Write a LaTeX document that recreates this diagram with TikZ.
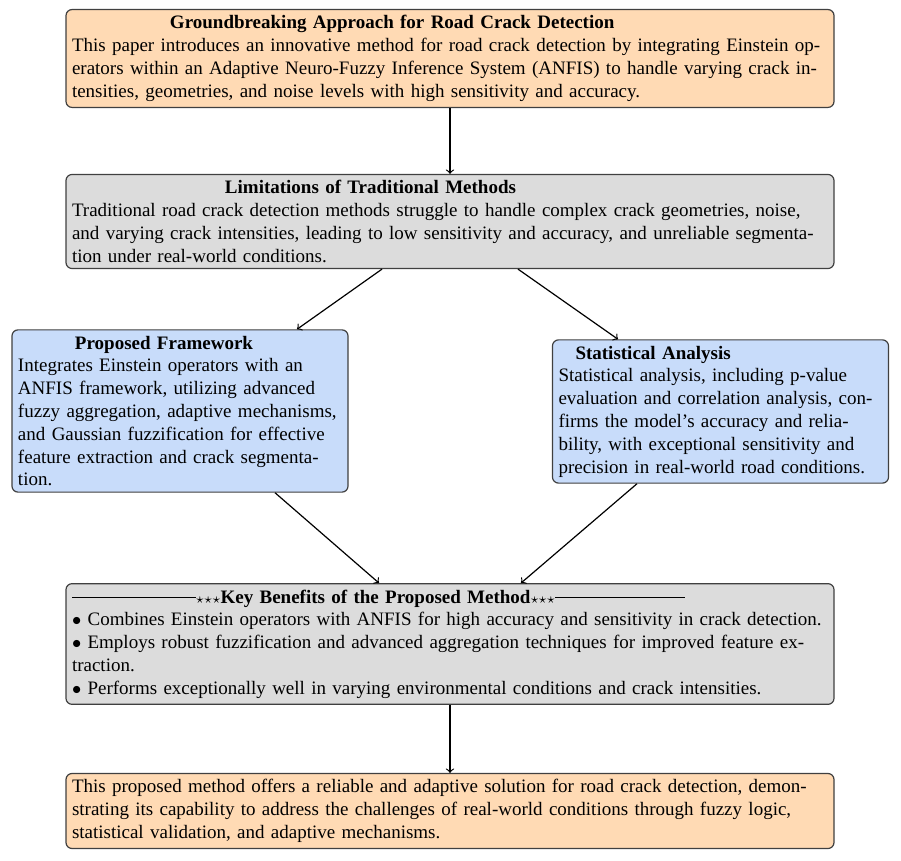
\documentclass[tikz,border=0pt]{standalone}
\usepackage{fontspec}
\setmainfont{Liberation Serif}
\usetikzlibrary{positioning}
\definecolor{peach}{RGB}{255,218,180}
\definecolor{lgray}{RGB}{220,220,220}
\definecolor{lblue}{RGB}{200,220,250}
\tikzset{
  box/.style={draw=black!75, line width=0.6pt, rounded corners=3pt, inner xsep=3pt, inner ysep=3pt, align=left, font=\fontsize{9.5}{11.4}\selectfont},
  widebox/.style={box, text width=378pt},
  narrowbox/.style={box, text width=162pt},
  arr/.style={->, line width=0.6pt}
}
\begin{document}
\begin{tikzpicture}[x=1pt,y=1pt]
\useasboundingbox (0,0) rectangle (450.5,-430.5);
\node[widebox, fill=peach] (top) at (225,-29.25) {\hspace*{49pt}\textbf{Groundbreaking Approach for Road Crack Detection}\\This paper introduces an innovative method for road crack detection by integrating Einstein operators within an Adaptive Neuro-Fuzzy Inference System (ANFIS) to handle varying crack intensities, geometries, and noise levels with high sensitivity and accuracy.};
\node[widebox, fill=lgray] (lim) at (225,-110.75) {\hspace*{76.5pt}\textbf{Limitations of Traditional Methods}\\Traditional road crack detection methods struggle to handle complex crack geometries, noise, and varying crack intensities, leading to low sensitivity and accuracy, and unreliable segmentation under real-world conditions.};
\node[narrowbox, fill=lblue] (prop) at (90,-205.5) {\hspace*{28.5pt}\textbf{Proposed Framework}\\Integrates Einstein operators with an ANFIS framework, utilizing advanced fuzzy aggregation, adaptive mechanisms, and Gaussian fuzzification for effective feature extraction and crack segmentation.};
\node[narrowbox, fill=lblue] (stat) at (360.25,-205.75) {\hspace*{8.5pt}\textbf{Statistical Analysis}\\Statistical analysis, including p-value evaluation and correlation analysis, confirms the model's accuracy and reliability, with exceptional sensitivity and precision in real-world road conditions.};
\node[widebox, fill=lgray] (key) at (225,-322) {\rule[0.6ex]{62pt}{0.4pt}$\scriptstyle\star\star\star$\textbf{Key Benefits of the Proposed Method}$\scriptstyle\star\star\star$\rule[0.6ex]{65pt}{0.4pt}\\$\bullet$ Combines Einstein operators with ANFIS for high accuracy and sensitivity in crack detection.\\$\bullet$ Employs robust fuzzification and advanced aggregation techniques for improved feature extraction.\\$\bullet$ Performs exceptionally well in varying environmental conditions and crack intensities.};
\node[widebox, fill=peach] (fin) at (225,-405.5) {This proposed method offers a reliable and adaptive solution for road crack detection, demonstrating its capability to address the challenges of real-world conditions through fuzzy logic, statistical validation, and adaptive mechanisms.};
\draw[arr] (top.south) -- (lim.north);
\draw[arr] ([xshift=-34pt]lim.south) -- ([xshift=58.5pt]prop.north);
\draw[arr] ([xshift=34pt]lim.south) -- ([xshift=-51.25pt]stat.north);
\draw[arr] ([xshift=47.5pt]prop.south) -- ([xshift=-35.5pt]key.north);
\draw[arr] ([xshift=-41.75pt]stat.south) -- ([xshift=35.5pt]key.north);
\draw[arr] (key.south) -- (fin.north);
\end{tikzpicture}
\end{document}
